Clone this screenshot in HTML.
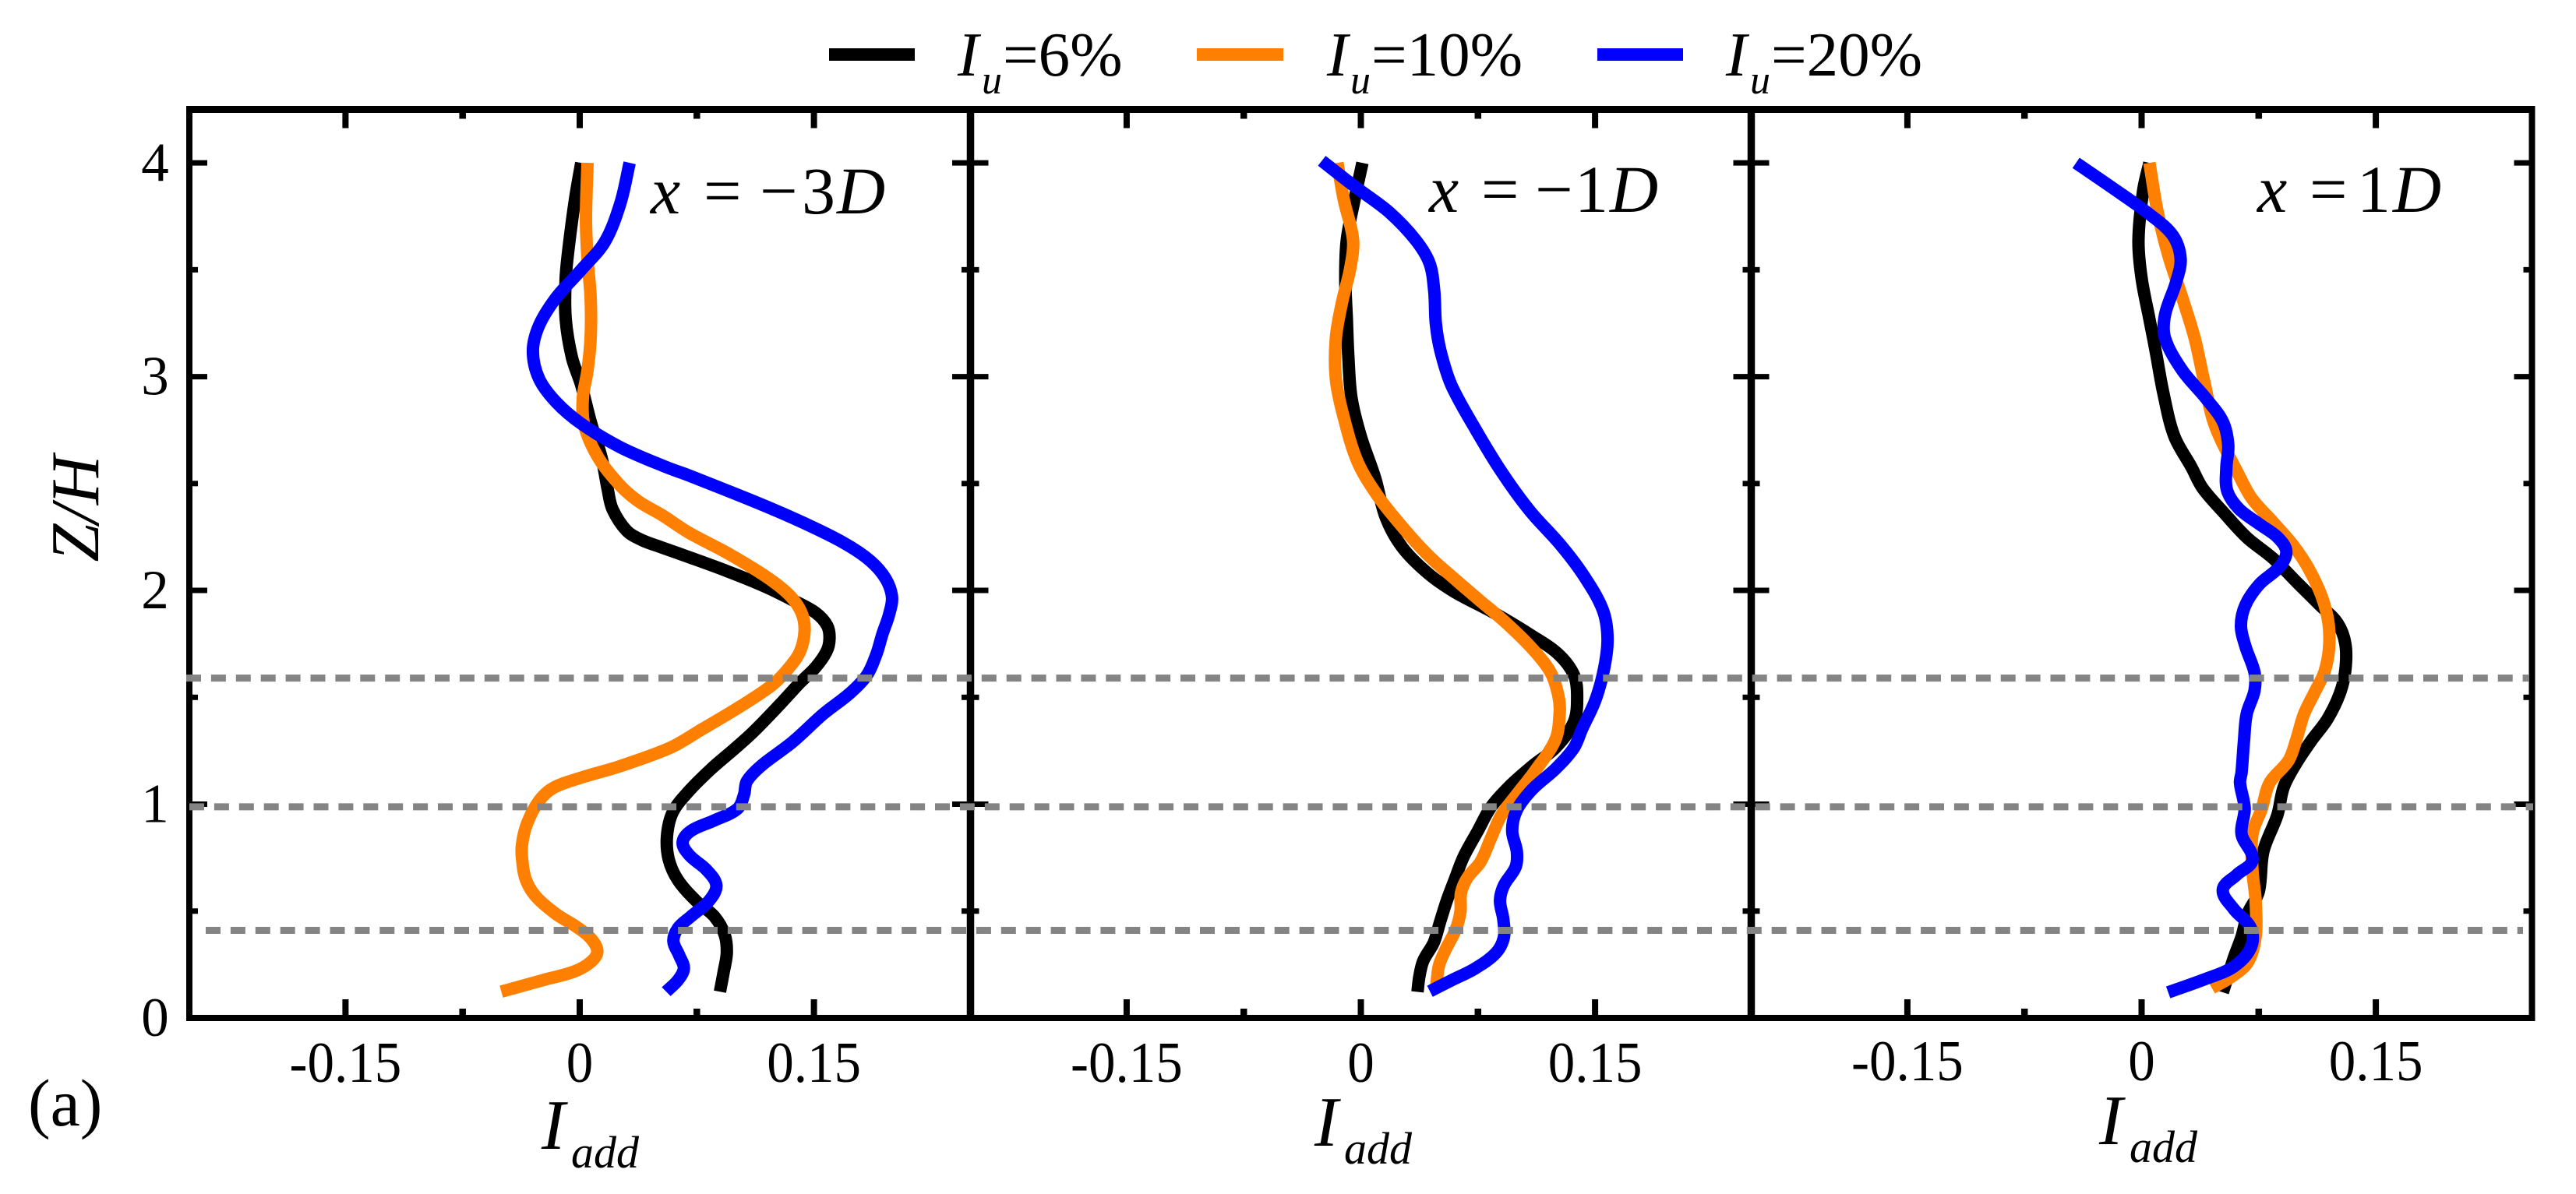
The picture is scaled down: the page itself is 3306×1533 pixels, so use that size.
<!DOCTYPE html>
<html lang="en">
<head>
<meta charset="utf-8">
<title>Added turbulence intensity profiles</title>
<style>
  html, body { margin: 0; padding: 0; background: #fff; }
  svg { display: block; font-family: "Liberation Serif", serif; fill: #000; }
  .it { font-style: italic; }
</style>
</head>
<body>
<svg id="chart" width="3306" height="1533" viewBox="0 0 3306 1533" xmlns="http://www.w3.org/2000/svg">
  <rect width="3306" height="1533" fill="#fff"/>
  <g id="plot"></g>
  <g id="axes"></g>
  <g id="refs"></g>

  <g>
    <g>
      <rect x="1064" y="62" width="110" height="16" fill="#000"/>
      <text class="it" x="1229" y="97" font-size="81">I</text>
      <text class="it" x="1260" y="120" font-size="52">u</text>
      <text x="1287" y="97" font-size="81">=6%</text>
    </g>
    <g>
      <rect x="1536" y="62" width="111" height="16" fill="#ff7f00"/>
      <text class="it" x="1703" y="97" font-size="81">I</text>
      <text class="it" x="1733" y="120" font-size="52">u</text>
      <text x="1760" y="97" font-size="81">=10%</text>
    </g>
    <g>
      <rect x="2050" y="62" width="110" height="16" fill="#0000ff"/>
      <text class="it" x="2215" y="97" font-size="81">I</text>
      <text class="it" x="2246" y="120" font-size="52">u</text>
      <text x="2273" y="97" font-size="81">=20%</text>
    </g>
  </g>

  <g font-size="86">
    <text class="it" x="835" y="274">x</text><text x="903" y="274">=</text><text x="975" y="274">−</text><text x="1029" y="274">3</text><text class="it" x="1074" y="274">D</text>
  </g>
  <g font-size="86">
    <text class="it" x="1834" y="272">x</text><text x="1901" y="272">=</text><text x="1970" y="272">−</text><text x="2021" y="272">1</text><text class="it" x="2066" y="272">D</text>
  </g>
  <g font-size="86">
    <text class="it" x="2897" y="272">x</text><text x="2964" y="272">=</text><text x="3025" y="272">1</text><text class="it" x="3071" y="272">D</text>
  </g>

  <text class="it" font-size="88" text-anchor="middle" transform="translate(126,653) rotate(-90)">Z/H</text>

  <g>
    <text class="it" x="695" y="1475" font-size="91">I</text>
    <text class="it" x="733" y="1499" font-size="58">add</text>
  </g>
  <g>
    <text class="it" x="1687" y="1471" font-size="91">I</text>
    <text class="it" x="1725" y="1494" font-size="58">add</text>
  </g>
  <g>
    <text class="it" x="2694" y="1469" font-size="91">I</text>
    <text class="it" x="2733" y="1492" font-size="58">add</text>
  </g>

  <text x="36" y="1445" font-size="86">(a)</text>
</svg>

<script>
// Axis tick values and labels
const xTickValues = [-0.15, 0, 0.15];
const xTickLabels = ['-0.15', '0', '0.15'];
const xMinorValues = [-0.075, 0.075];
const yTickValues = [0, 1, 2, 3, 4];
const yTickLabels = ['0', '1', '2', '3', '4'];
const yMinorValues = [0.5, 1.5, 2.5, 3.5];
const referenceHeights = [1.59, 0.988, 0.41];

// Series values as [Iadd, Z/H] pairs
const xm3dIu6 = [[.001,4.00],[-.003,3.83],[-.007,3.61],[-.009,3.46],[-.009,3.27],[-.005,3.09],[.001,2.96],[.007,2.79],[.014,2.62],[.018,2.47],[.021,2.38],[.030,2.28],[.040,2.235],[.053,2.2],[.0695,2.157],[.0945,2.09],[.119,2.017],[.136,1.956],[.151,1.896],[.1585,1.835],[.160,1.774],[.158,1.713],[.151,1.64],[.141,1.568],[.128,1.465],[.111,1.337],[.098,1.252],[.0845,1.167],[.0695,1.058],[.0595,.961],[.0559,.851],[.057,.742],[.0629,.645],[.0745,.548],[.0862,.475],[.0928,.39],[.0942,.305],[.092,.208],[.0898,.123]];
const xm3dIu10 = [[.005,4.00],[.004,3.74],[.005,3.55],[.007,3.37],[.007,3.18],[.005,3.03],[.002,2.90],[.003,2.77],[.012,2.62],[.026,2.49],[.038,2.415],[.053,2.351],[.0695,2.272],[.0945,2.175],[.119,2.066],[.134,1.98],[.142,1.896],[.144,1.811],[.141,1.713],[.133,1.629],[.123,1.556],[.103,1.458],[.078,1.349],[.0579,1.264],[.0263,1.179],[.0013,1.125],[-.017,1.076],[-.0261,1.015],[-.0336,.912],[-.0369,.815],[-.0369,.742],[-.0344,.645],[-.0278,.566],[-.0153,.487],[-.002,.426],[.0071,.372],[.0113,.311],[.0071,.262],[-.0036,.217],[-.0236,.177],[-.0502,.123]];
const xm3dIu20 = [[.032,4.00],[.026,3.81],[.016,3.63],[.001,3.50],[-.015,3.37],[-.026,3.24],[-.030,3.12],[-.026,2.99],[-.015,2.88],[.001,2.78],[.026,2.67],[.055,2.578],[.0695,2.539],[.0945,2.467],[.119,2.394],[.144,2.314],[.169,2.223],[.186,2.139],[.196,2.054],[.200,1.968],[.198,1.884],[.194,1.799],[.190,1.702],[.184,1.604],[.173,1.519],[.156,1.422],[.136,1.289],[.1161,1.179],[.107,1.107],[.1053,1.046],[.1011,.979],[.0862,.924],[.0712,.875],[.0659,.821],[.0704,.76],[.0812,.693],[.0875,.62],[.0828,.548],[.0712,.475],[.0629,.42],[.06,.36],[.0637,.293],[.0667,.232],[.0629,.177],[.0554,.123]];

const xm1dIu6 = [[.001,4.00],[-.004,3.83],[-.009,3.64],[-.010,3.46],[-.009,3.27],[-.008,3.09],[-.006,2.90],[0,2.72],[.009,2.53],[.016,2.34],[.0267,2.2],[.0433,2.078],[.060,1.993],[.085,1.896],[.110,1.786],[.1265,1.702],[.1365,1.604],[.1385,1.507],[.1365,1.386],[.1246,1.264],[.1099,1.179],[.0949,1.082],[.0832,.985],[.0749,.875],[.0658,.754],[.06,.645],[.055,.548],[.0508,.451],[.0467,.353],[.04,.268],[.0375,.196],[.0363,.122]];
const xm1dIu10 = [[-.015,4.00],[-.011,3.83],[-.005,3.64],[-.007,3.50],[-.012,3.35],[-.016,3.18],[-.016,2.99],[-.011,2.81],[-.002,2.60],[.011,2.44],[.0267,2.296],[.0433,2.163],[.060,2.054],[.0766,1.95],[.0932,1.847],[.110,1.726],[.1215,1.617],[.1265,1.507],[.1273,1.422],[.1245,1.30],[.1115,1.155],[.0999,1.046],[.0899,.948],[.0832,.839],[.0766,.73],[.0683,.657],[.0641,.584],[.0638,.499],[.0608,.414],[.0541,.317],[.05,.244],[.0483,.147]];
const xm1dIu20 = [[-.025,4.01],[-.004,3.89],[.018,3.77],[.035,3.64],[.044,3.53],[.047,3.40],[.048,3.25],[.051,3.12],[.058,2.96],[.0735,2.753],[.0905,2.55],[.1085,2.37],[.128,2.212],[.143,2.066],[.155,1.908],[.158,1.774],[.1556,1.628],[.150,1.483],[.1415,1.349],[.1365,1.264],[.1249,1.167],[.1099,1.07],[.0999,.973],[.0969,.875],[.0999,.779],[.0991,.706],[.0916,.62],[.0891,.548],[.0912,.463],[.0916,.378],[.0866,.305],[.0733,.232],[.0583,.177],[.0442,.125]];

const xp1dIu6 = [[.005,4.00],[.001,3.87],[-.002,3.64],[0,3.46],[.005,3.27],[.009,3.12],[.014,2.92],[.021,2.72],[.032,2.576],[.039,2.479],[.052,2.369],[.0673,2.248],[.084,2.151],[.1005,2.03],[.114,1.932],[.1255,1.847],[.1305,1.75],[.1305,1.628],[.127,1.519],[.119,1.398],[.109,1.30],[.099,1.191],[.091,1.08],[.087,.95],[.078,.78],[.075,.59],[.068,.49],[.064,.38],[.059,.28],[.052,.12]];
const xp1dIu10 = [[.005,4.00],[.010,3.78],[.017,3.57],[.026,3.37],[.034,3.18],[.040,2.98],[.047,2.77],[.0623,2.54],[.0706,2.43],[.084,2.321],[.097,2.212],[.107,2.102],[.1155,1.968],[.1197,1.847],[.120,1.726],[.117,1.617],[.1105,1.519],[.104,1.422],[.099,1.30],[.094,1.203],[.082,1.10],[.077,.98],[.071,.86],[.071,.69],[.073,.55],[.073,.38],[.068,.26],[.057,.19],[.045,.14]];
const xp1dIu20 = [[-.042,4.00],[-.020,3.89],[.005,3.76],[.020,3.66],[.025,3.55],[.022,3.44],[.015,3.29],[.015,3.18],[.026,3.03],[.041,2.90],[.052,2.79],[.0555,2.68],[.0543,2.576],[.0548,2.467],[.0623,2.382],[.0756,2.309],[.0872,2.248],[.0927,2.181],[.088,2.108],[.0756,2.03],[.0665,1.932],[.0636,1.835],[.0665,1.738],[.0723,1.617],[.0723,1.531],[.0673,1.422],[.0656,1.30],[.064,1.148],[.063,1.10],[.066,.98],[.064,.86],[.071,.74],[.061,.67],[.052,.60],[.059,.51],[.070,.42],[.070,.33],[.059,.24],[.040,.18],[.017,.12]];

// Layout
const NS = 'http://www.w3.org/2000/svg';
const plotTop = 140.5, plotBottom = 1307, zMax = 4.25;
const panelLefts = [243, 1245.5, 2247.5];
const panelWidth = 1002;
const iMin = -0.25, iMax = 0.25;

function xScale(panel, v) {
  return panelLefts[panel] + (v - iMin) / (iMax - iMin) * panelWidth;
}
function yScale(z) {
  return plotBottom - z / zMax * (plotBottom - plotTop);
}
function smoothPath(panel, pts) {
  const p = pts.map(function (d) { return [xScale(panel, d[0]), yScale(d[1])]; });
  function tangent(i) {
    const a = p[Math.max(i - 1, 0)], c = p[Math.min(i + 1, p.length - 1)];
    const dx = c[0] - a[0], dy = c[1] - a[1];
    const len = Math.hypot(dx, dy) || 1;
    return [dx / len, dy / len];
  }
  let out = 'M' + p[0][0].toFixed(1) + ' ' + p[0][1].toFixed(1);
  for (let i = 0; i < p.length - 1; i++) {
    const b = p[i], c = p[i + 1];
    const seg = Math.hypot(c[0] - b[0], c[1] - b[1]) / 3;
    const t0 = tangent(i), t1 = tangent(i + 1);
    out += 'C' + (b[0] + t0[0] * seg).toFixed(1) + ' ' + (b[1] + t0[1] * seg).toFixed(1) + ' ' +
      (c[0] - t1[0] * seg).toFixed(1) + ' ' + (c[1] - t1[1] * seg).toFixed(1) + ' ' +
      c[0].toFixed(1) + ' ' + c[1].toFixed(1);
  }
  return out;
}
function addLine(parent, x1, y1, x2, y2, width, color) {
  const el = document.createElementNS(NS, 'line');
  el.setAttribute('x1', x1);
  el.setAttribute('y1', y1);
  el.setAttribute('x2', x2);
  el.setAttribute('y2', y2);
  el.setAttribute('stroke', color);
  el.setAttribute('stroke-width', width);
  parent.appendChild(el);
  return el;
}

const plotLayer = document.getElementById('plot');
const refsLayer = document.getElementById('refs');
const axesLayer = document.getElementById('axes');

// Curves
const panelSeries = [
  [xm3dIu6, xm3dIu10, xm3dIu20],
  [xm1dIu6, xm1dIu10, xm1dIu20],
  [xp1dIu6, xp1dIu10, xp1dIu20]
];
const seriesColors = ['#000000', '#ff7f00', '#0000ff'];
const seriesKeys = ['iu-6', 'iu-10', 'iu-20'];
panelSeries.forEach(function (group, panel) {
  group.forEach(function (pts, s) {
    const path = document.createElementNS(NS, 'path');
    path.setAttribute('d', smoothPath(panel, pts));
    path.setAttribute('fill', 'none');
    path.setAttribute('stroke', seriesColors[s]);
    path.setAttribute('stroke-width', 16);
    path.setAttribute('stroke-linejoin', 'round');
    
    
    plotLayer.appendChild(path);
  });
});

// Frames and ticks
const xEnd = panelLefts[2] + panelWidth;
const frameTop = addLine(axesLayer, panelLefts[0] - 4, plotTop, xEnd + 4, plotTop, 9, '#000');


const frameBottom = addLine(axesLayer, panelLefts[0] - 4, plotBottom, xEnd + 4, plotBottom, 8, '#000');


panelLefts.concat([xEnd]).forEach(function (x, i) {
  const edge = addLine(axesLayer, x, plotTop, x, plotBottom, (i === 1 || i === 2) ? 9.5 : 8, '#000');
  
  
});

panelLefts.forEach(function (left, panel) {
  const right = left + panelWidth;
  xTickValues.forEach(function (v, i) {
    const x = xScale(panel, v);
    const top = addLine(axesLayer, x, plotTop, x, plotTop + 24, 8, '#000');
    
    
    const bottom = addLine(axesLayer, x, plotBottom, x, plotBottom - 24, 8, '#000');
    
    
    const label = document.createElementNS(NS, 'text');
    label.setAttribute('transform', 'translate(' + x + ',' + (panel === 2 ? 1387 : 1389) + ') scale(1,1.08)');
    label.setAttribute('font-size', '69');
    label.setAttribute('text-anchor', 'middle');
    
    
    label.textContent = xTickLabels[i];
    axesLayer.appendChild(label);
  });
  xMinorValues.forEach(function (v) {
    const x = xScale(panel, v);
    const top = addLine(axesLayer, x, plotTop, x, plotTop + 12, 8.5, '#000');
    
    
    const bottom = addLine(axesLayer, x, plotBottom, x, plotBottom - 12, 8.5, '#000');
    
    
  });
  yTickValues.forEach(function (v) {
    const y = yScale(v);
    const l = addLine(axesLayer, left, y, left + 23, y, 7, '#000');
    
    
    const r = addLine(axesLayer, right, y, right - 23, y, 7, '#000');
    
    
  });
  yMinorValues.forEach(function (v) {
    const y = yScale(v);
    const l = addLine(axesLayer, left, y, left + 11, y, 7, '#000');
    
    
    const r = addLine(axesLayer, right, y, right - 11, y, 7, '#000');
    
    
  });
});

yTickValues.forEach(function (v, i) {
  const label = document.createElementNS(NS, 'text');
  label.setAttribute('x', 199);
  label.setAttribute('y', yScale(v) + 23);
  label.setAttribute('font-size', '71');
  label.setAttribute('text-anchor', 'middle');
  
  
  label.textContent = yTickLabels[i];
  axesLayer.appendChild(label);
});

// Dashed reference lines (drawn above the curves)
const refStarts = [239, 243, 264];
const refEnds = [3245, 3251, 3238];
referenceHeights.forEach(function (z, i) {
  const y = yScale(z);
  const ref = addLine(refsLayer, refStarts[i], y, refEnds[i], y, 9, '#848484');
  ref.setAttribute('stroke-dasharray', '19 12.9');
  
  
});
</script>
</body>
</html>
